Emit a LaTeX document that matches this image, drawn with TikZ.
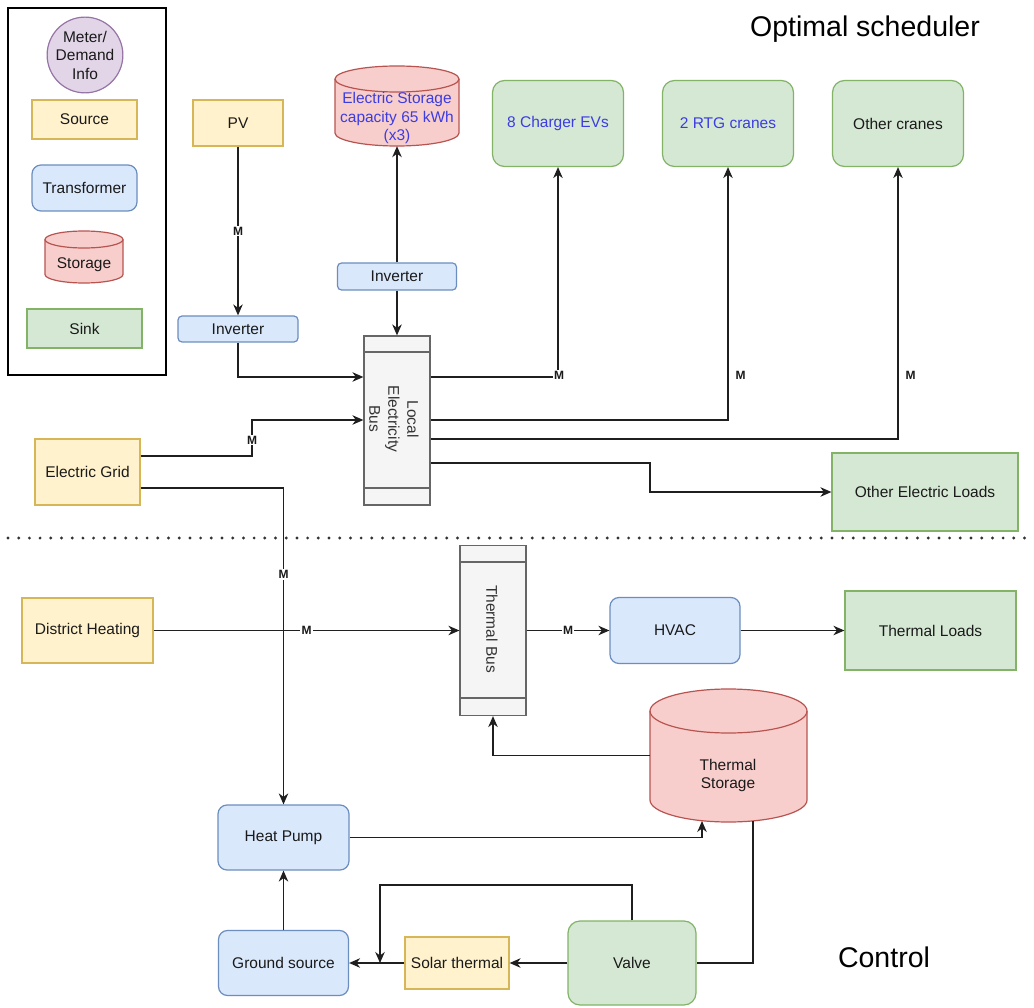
\documentclass[tikz,border=0pt]{standalone}
\usepackage{fontspec}
\setmainfont{Liberation Sans}
\usetikzlibrary{arrows.meta}
\definecolor{srcfill}{HTML}{FFF2CC}\definecolor{srcdraw}{HTML}{D6B656}
\definecolor{trfill}{HTML}{DAE8FC}\definecolor{trdraw}{HTML}{6C8EBF}
\definecolor{stfill}{HTML}{F8CECC}\definecolor{stdraw}{HTML}{B85450}
\definecolor{skfill}{HTML}{D5E8D4}\definecolor{skdraw}{HTML}{82B366}
\definecolor{mtfill}{HTML}{E1D5E7}\definecolor{mtdraw}{HTML}{9673A6}
\definecolor{busfill}{HTML}{F5F5F5}\definecolor{busdraw}{HTML}{666666}
\definecolor{bluetxt}{RGB}{60,60,225}
\definecolor{txt}{HTML}{1A1A1A}
\definecolor{bustxt}{HTML}{333333}
\definecolor{wirec}{HTML}{1F1F1F}
\definecolor{dotc}{HTML}{333333}
\newcommand\mycyl[5]{%
  \pgfmathsetmacro\cylL{#1}\pgfmathsetmacro\cylT{#2}%
  \pgfmathsetmacro\cylR{#3}\pgfmathsetmacro\cylB{#4}\pgfmathsetmacro\cylY{#5}%
  \pgfmathsetmacro\cylX{(\cylL+\cylR)/2}%
  \pgfmathsetmacro\cylKX{0.5523*(\cylR-\cylL)/2}\pgfmathsetmacro\cylKY{0.5523*\cylY}%
  \path[cylshape] (\cylL,\cylT+\cylY) -- (\cylL,\cylB-\cylY)
    .. controls (\cylL,\cylB-\cylY+\cylKY) and (\cylX-\cylKX,\cylB) .. (\cylX,\cylB)
    .. controls (\cylX+\cylKX,\cylB) and (\cylR,\cylB-\cylY+\cylKY) .. (\cylR,\cylB-\cylY)
    -- (\cylR,\cylT+\cylY)
    .. controls (\cylR,\cylT+\cylY-\cylKY) and (\cylX+\cylKX,\cylT) .. (\cylX,\cylT)
    .. controls (\cylX-\cylKX,\cylT) and (\cylL,\cylT+\cylY-\cylKY) .. (\cylL,\cylT+\cylY) -- cycle;
  \path[cylline] (\cylL,\cylT+\cylY)
    .. controls (\cylL,\cylT+\cylY+\cylKY) and (\cylX-\cylKX,\cylT+2*\cylY) .. (\cylX,\cylT+2*\cylY)
    .. controls (\cylX+\cylKX,\cylT+2*\cylY) and (\cylR,\cylT+\cylY+\cylKY) .. (\cylR,\cylT+\cylY);
}
\begin{document}
\begin{tikzpicture}[x=1pt,y=-1pt,
  base/.style={draw, line width=1.2pt, inner sep=1pt, align=center,
    font=\fontsize{15.5}{18.5}\selectfont, text=txt},
  srcbox/.style={base, fill=srcfill, draw=srcdraw},
  trbox/.style={base, fill=trfill, draw=trdraw, rounded corners=9pt},
  invbox/.style={base, fill=trfill, draw=trdraw, rounded corners=4pt},
  sinkbox/.style={base, fill=skfill, draw=skdraw},
  sinkrnd/.style={sinkbox, rounded corners=12pt},
  busbox/.style={draw=busdraw, fill=busfill, line width=1.2pt, inner sep=0pt},
  busline/.style={draw=busdraw, line width=1.2pt},
  bustext/.style={rotate=-90, align=center, font=\fontsize{15.5}{19}\selectfont, text=bustxt, inner sep=0pt},
  cylshape/.style={fill=stfill, draw=stdraw, line width=1.2pt},
  cylline/.style={draw=stdraw, line width=1.2pt},
  cylframe/.style={draw=none, inner sep=0pt},
  cyltext/.style={align=center, font=\fontsize{15.5}{18.5}\selectfont, text=txt, inner sep=0pt},
  wire/.style={draw=wirec, line width=1.3pt},
  arr/.style={wire, -{Stealth[length=11pt,width=9.5pt,inset=3.5pt]}},
  mlab/.style={font=\bfseries\fontsize{12}{13}\selectfont, text=txt, fill=white, inner sep=1.2pt},
  mlabr/.style={font=\bfseries\fontsize{12}{13}\selectfont, text=txt, inner sep=1pt},
  titletext/.style={font=\fontsize{28.5}{32}\selectfont, text=black, inner sep=0pt}
]
\useasboundingbox (0,0) rectangle (1034,1008);
\fill[white] (0,0) rectangle (1034,1008);

% ---------- legend ----------
\node[draw=black, line width=1.3pt, minimum width=158pt, minimum height=367pt, inner sep=0pt] (legend) at (87,191.5) {};
\node[circle, fill=mtfill, draw=mtdraw, line width=1.2pt, minimum size=66pt, inner sep=0pt,
  align=center, font=\fontsize{15.5}{18.5}\selectfont, text=txt] (meter) at (85,55) {Meter/\\Demand\\Info};
\node[srcbox, minimum width=105pt, minimum height=39pt] (legsrc) at (84.5,119.5) {Source};
\node[trbox, minimum width=105pt, minimum height=46pt] (legtr) at (84.5,188) {Transformer};
\mycyl{45}{231}{123}{283}{8.5}
\node[cylframe, minimum width=78pt, minimum height=52pt] (legst) at (84,257) {};
\node[cyltext] (legsttxt) at (84,265) {Storage};
\node[sinkbox, minimum width=115pt, minimum height=39pt] (legsink) at (84.5,328.5) {Sink};

% ---------- titles ----------
\node[titletext] (tsched) at (865,29) {Optimal scheduler};
\node[titletext] (tctrl) at (884,957) {Control};

% ---------- upper part ----------
\node[srcbox, minimum width=90pt, minimum height=46pt] (pv) at (238,123) {PV};
\mycyl{335}{66}{459}{146}{13}
\node[cylframe, minimum width=124pt, minimum height=80pt] (estor) at (397,106) {};
\node[cyltext, text=bluetxt] (estortxt) at (397,118) {Electric Storage\\capacity 65 kWh\\(x3)};
\node[sinkrnd, minimum width=131pt, minimum height=86pt, text=bluetxt] (ev) at (558,123.5) {8 Charger EVs};
\node[sinkrnd, minimum width=131pt, minimum height=86pt, text=bluetxt] (rtg) at (728,123.5) {2 RTG cranes};
\node[sinkrnd, minimum width=131pt, minimum height=86pt] (ocr) at (898,123.5) {Other cranes};

\node[invbox, minimum width=119pt, minimum height=27pt] (inv2) at (397,276.5) {Inverter};
\node[invbox, minimum width=120pt, minimum height=26pt] (inv1) at (238,329) {Inverter};

\node[busbox, minimum width=66pt, minimum height=169pt] (lbus) at (397,420.5) {};
\draw[busline] (364,352) -- (430,352);
\draw[busline] (364,488) -- (430,488);
\node[bustext] (lbustxt) at (394,419) {Local\\Electricity\\Bus};

\node[srcbox, minimum width=105pt, minimum height=66pt] (grid) at (87.5,472) {Electric Grid};
\node[sinkbox, minimum width=186pt, minimum height=78pt] (oel) at (925,492) {Other Electric Loads};

% ---------- separator ----------
\draw[dotc, line width=3.2pt, line cap=round, dash pattern=on 0pt off 10.7pt] (8,538) -- (1034,538);

% ---------- lower part ----------
\node[srcbox, minimum width=131pt, minimum height=65pt] (dh) at (87.5,630.5) {District Heating};
\node[busbox, minimum width=66pt, minimum height=170pt] (tbus) at (493,630.5) {};
\draw[busline] (460,562) -- (526,562);
\draw[busline] (460,698) -- (526,698);
\node[bustext] (tbustxt) at (492,629) {Thermal Bus};
\node[trbox, minimum width=130pt, minimum height=66pt] (hvac) at (675,630.5) {HVAC};
\node[sinkbox, minimum width=171pt, minimum height=79pt] (tl) at (930.5,630.5) {Thermal Loads};

\mycyl{650}{689}{807}{822}{22}
\node[cylframe, minimum width=157pt, minimum height=133pt] (tstor) at (728.5,755.5) {};
\node[cyltext] (tstortxt) at (728,775.5) {Thermal\\Storage};
\coordinate (tsin) at (702,821);
\coordinate (tsout) at (753,821);

\node[trbox, minimum width=131pt, minimum height=65pt] (hp) at (283.5,837.5) {Heat Pump};
\node[trbox, minimum width=130pt, minimum height=65pt] (gs) at (283.5,963) {Ground source};
\node[srcbox, minimum width=104pt, minimum height=52pt, inner sep=0pt] (solar) at (457,963) {Solar thermal};
\node[sinkrnd, minimum width=128pt, minimum height=84pt] (valve) at (632,963) {Valve};
\coordinate (jn) at (380,963);

% ---------- connectors ----------
\draw[arr] (pv.south) -- node[mlab]{M} (inv1.north);
\draw[arr] (inv1.south) |- (lbus.west |- 0,377);
\draw[arr] (inv2.north) -- (estor.south);
\draw[arr] (inv2.south) -- (lbus.north);
\draw[arr] (grid.east |- 0,456) -| (252,440) node[mlab]{M} |- (lbus.west |- 0,420);
\draw[arr] (grid.east |- 0,488) -| node[mlab, pos=0.637]{M} (hp.north);

\draw[arr] (lbus.east |- 0,377) -| node[mlab, pos=0.5, xshift=1pt, yshift=2pt]{M} (ev.south);
\draw[arr] (lbus.east |- 0,420) -| node[mlabr, pos=0.589, anchor=west, xshift=6pt]{M} (rtg.south);
\draw[arr] (lbus.east |- 0,439) -| node[mlabr, pos=0.617, anchor=west, xshift=6pt]{M} (ocr.south);
\draw[arr] (lbus.east |- 0,463) -| (650,477) |- (oel.west);

\draw[arr] (dh.east) -- node[mlab, pos=0.5]{M} (tbus.west);
\draw[arr] (tbus.east) -- node[mlab]{M} (hvac.west);
\draw[arr] (hvac.east) -- (tl.west);
\draw[arr] (tstor.west) -| (tbus.south);
\draw[arr] (hp.east) -| (tsin);
\draw[wire] (tsout) |- (valve.east);
\draw[arr] (valve.west) -- (solar.east);
\draw[arr] (solar.west) -- (gs.east);
\draw[arr] (valve.north) |- (380,885) -- (jn);
\draw[arr] (gs.north) -- (hp.south);
\end{tikzpicture}
\end{document}
